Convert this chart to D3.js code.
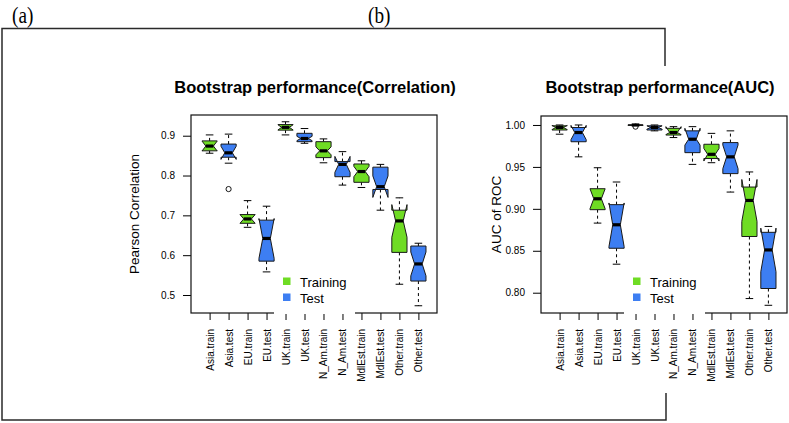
<!DOCTYPE html>
<html><head><meta charset="utf-8">
<script src="https://cdn.jsdelivr.net/npm/d3@7"></script>
<style>
html,body{margin:0;padding:0;background:#fff;}
svg{display:block;}
text{font-family:"Liberation Sans",Arial,Helvetica,sans-serif;fill:#000;}
</style></head>
<body>
<svg id="chart" width="789" height="423"></svg>
<script>
// ---------- data ----------
const categories = ["Asia.train","Asia.test","EU.train","EU.test","UK.train","UK.test","N_Am.train","N_Am.test","MdlEst.train","MdlEst.test","Other.train","Other.test"];
const groupOfBox = ["Training","Test","Training","Test","Training","Test","Training","Test","Training","Test","Training","Test"];
const legendLabels = ["Training","Test"];

// Panel (a): Pearson correlation
const corrWhiskerLow  = [0.856,0.831,0.670,0.558,0.902,0.881,0.832,0.776,0.770,0.713,0.527,0.473];
const corrQ1          = [0.862,0.846,0.680,0.585,0.914,0.885,0.845,0.797,0.783,0.765,0.607,0.535];
const corrMedian      = [0.874,0.857,0.691,0.642,0.921,0.893,0.862,0.828,0.810,0.772,0.686,0.578];
const corrQ3          = [0.887,0.879,0.702,0.688,0.928,0.906,0.885,0.835,0.829,0.821,0.713,0.623];
const corrWhiskerHigh = [0.902,0.904,0.737,0.723,0.935,0.918,0.892,0.860,0.837,0.828,0.744,0.630];
const corrNotchLow    = [0.8615,0.8405,0.680,0.592,0.9145,0.8875,0.852,0.808,0.797,0.745,0.645,0.548];
const corrNotchHigh   = [0.8865,0.8735,0.702,0.692,0.9275,0.8985,0.872,0.848,0.823,0.799,0.727,0.608];
const corrOutliers    = [{box:1, value:0.766}];
const corrTicks = [0.5,0.6,0.7,0.8,0.9];

// Panel (b): AUC of ROC
const aucWhiskerLow  = [0.989,0.962,0.883,0.834,0.9993,0.993,0.985,0.953,0.955,0.920,0.793,0.785];
const aucQ1          = [0.994,0.980,0.899,0.853,0.9995,0.994,0.988,0.967,0.960,0.942,0.867,0.805];
const aucMedian      = [0.997,0.991,0.912,0.881,1.000,0.997,0.991,0.983,0.965,0.962,0.910,0.851];
const aucQ3          = [0.999,0.997,0.924,0.905,1.000,0.999,0.996,0.993,0.977,0.979,0.926,0.872];
const aucWhiskerHigh = [1.000,1.000,0.949,0.932,1.000,1.000,0.998,0.998,0.990,0.993,0.944,0.879];
const aucNotchLow    = [0.9945,0.9825,0.900,0.855,0.9996,0.995,0.9885,0.976,0.957,0.948,0.885,0.825];
const aucNotchHigh   = [0.9995,0.9995,0.924,0.907,1.000,0.999,0.998,0.996,0.972,0.976,0.935,0.877];
const aucOutliers    = [{box:4, value:0.998}];
const aucTicks = [0.80,0.85,0.90,0.95,1.00];

const colors = {Training:"#6fdc24", Test:"#3d7ef2"};

// ---------- drawing ----------
const svg = d3.select("#chart");

function panel(opts){
  const g = svg.append("g");
  const x = d3.scaleLinear().domain([0.02, categories.length + 0.98]).range([opts.left, opts.right]);
  const y = d3.scaleLinear().domain(opts.yDomain).range([opts.bottom, opts.top]);
  const unit = x(2) - x(1);
  const half = unit * 0.8 / 2;      // half box width
  const notchHalf = half * 0.5;
  const staple = half * 0.5;

  // title
  g.append("text").attr("x", opts.titleX).attr("y", opts.titleY)
    .attr("text-anchor","middle").style("font-weight","bold").style("font-size","16.5px")
    .text(opts.title);

  // y axis
  const ya = d3.axisLeft(y).tickValues(opts.ticks).tickFormat(d3.format(opts.fmt)).tickSize(8).tickPadding(8);
  const yg = g.append("g").attr("transform",`translate(${opts.left},0)`).call(ya);
  yg.select(".domain").remove();
  yg.selectAll("text").style("font-size","10px").style("font-family",'"Liberation Sans",Arial,sans-serif');
  yg.selectAll("line").attr("stroke","#000");

  // y label
  g.append("text").attr("transform",`translate(${opts.ylabX},${(opts.top+opts.bottom)/2}) rotate(-90)`)
    .attr("text-anchor","middle").style("font-size","13.5px").text(opts.ylabel);

  // x axis
  const xa = d3.axisBottom(x).tickValues(d3.range(1, categories.length+1))
    .tickFormat(i => categories[i-1]).tickSize(7);
  const xg = g.append("g").attr("transform",`translate(0,${opts.bottom})`).call(xa);
  xg.select(".domain").remove();
  xg.selectAll("line").attr("stroke","#000");
  xg.selectAll("text").attr("transform","rotate(-90)").attr("x",-16).attr("y",0).attr("dy","0.35em")
    .attr("text-anchor","end").style("font-size","10px").style("font-family",'"Liberation Sans",Arial,sans-serif');

  // boxes
  const d = opts.data;
  categories.forEach((c,i) => {
    const cx = x(i+1);
    const bg = g.append("g");
    bg.append("line").attr("x1",cx).attr("x2",cx).attr("y1",y(d.q3[i])).attr("y2",y(d.wh[i]))
      .attr("stroke","#000").attr("stroke-dasharray","3,3");
    bg.append("line").attr("x1",cx).attr("x2",cx).attr("y1",y(d.q1[i])).attr("y2",y(d.wl[i]))
      .attr("stroke","#000").attr("stroke-dasharray","3,3");
    [d.wh[i], d.wl[i]].forEach(v => {
      bg.append("line").attr("x1",cx-staple).attr("x2",cx+staple).attr("y1",y(v)).attr("y2",y(v)).attr("stroke","#000");
    });
    const pts = [
      [cx-half, y(d.q1[i])],[cx+half, y(d.q1[i])],[cx+half, y(d.nl[i])],[cx+notchHalf, y(d.med[i])],
      [cx+half, y(d.nh[i])],[cx+half, y(d.q3[i])],[cx-half, y(d.q3[i])],[cx-half, y(d.nh[i])],
      [cx-notchHalf, y(d.med[i])],[cx-half, y(d.nl[i])]
    ];
    bg.append("path").attr("d", d3.line()(pts) + "Z")
      .attr("fill", colors[groupOfBox[i]]).attr("stroke","#1a1a1a").attr("stroke-width",1)
      .attr("stroke-linejoin","miter");
    bg.append("line").attr("x1",cx-notchHalf).attr("x2",cx+notchHalf)
      .attr("y1",y(d.med[i])).attr("y2",y(d.med[i])).attr("stroke","#000").attr("stroke-width",3.2);
  });
  opts.outliers.forEach(o => {
    g.append("circle").attr("cx", x(o.box+1)).attr("cy", y(o.value)).attr("r",2.6)
      .attr("fill","none").attr("stroke","#000").attr("stroke-width",0.9);
  });

  // frame
  g.append("rect").attr("x",opts.left).attr("y",opts.top).attr("width",opts.right-opts.left)
    .attr("height",opts.bottom-opts.top).attr("fill","none").attr("stroke","#111").attr("stroke-width",1.2);

  // legend (opaque white box)
  const lg = g.append("g");
  lg.append("rect").attr("x",opts.legX-9).attr("y",268).attr("width",81).attr("height",46).attr("fill","#fff");
  legendLabels.forEach((lab,k) => {
    lg.append("rect").attr("x",opts.legX).attr("y",277.5 + k*16).attr("width",7.5).attr("height",7.5)
      .attr("fill",colors[lab]);
    lg.append("text").attr("x",opts.legX+17).attr("y",286.5 + k*16).style("font-size","13px").text(lab);
  });
}

panel({
  left:191, right:437, top:115, bottom:313, yDomain:[0.4548,0.952], ticks:corrTicks, fmt:".1f",
  title:"Bootstrap performance(Correlation)", titleX:315, titleY:93, ylabel:"Pearson Correlation", ylabX:139,
  legX:283,
  data:{wl:corrWhiskerLow,q1:corrQ1,med:corrMedian,q3:corrQ3,wh:corrWhiskerHigh,nl:corrNotchLow,nh:corrNotchHigh},
  outliers:corrOutliers
});
panel({
  left:541, right:787, top:116, bottom:313, yDomain:[0.7758,1.0107], ticks:aucTicks, fmt:".2f",
  title:"Bootstrap performance(AUC)", titleX:660, titleY:93, ylabel:"AUC of ROC", ylabX:501,
  legX:633,
  data:{wl:aucWhiskerLow,q1:aucQ1,med:aucMedian,q3:aucQ3,wh:aucWhiskerHigh,nl:aucNotchLow,nh:aucNotchHigh},
  outliers:aucOutliers
});

// outer figure frame and panel letters
const frame = svg.append("g").attr("fill","none").attr("stroke","#2a2a2a").attr("stroke-width",1.5);
frame.append("path").attr("d","M665,66 L665,28.5 L2,28.5 L2,420 L666,420 L666,393");
[["(a)",12],["(b)",368]].forEach(([t,px]) => {
  svg.append("text").attr("transform",`translate(${px},23) scale(0.8,1)`)
    .style("font-family",'"Liberation Serif","DejaVu Serif",serif').style("font-size","24px").text(t);
});
</script>
</body></html>
